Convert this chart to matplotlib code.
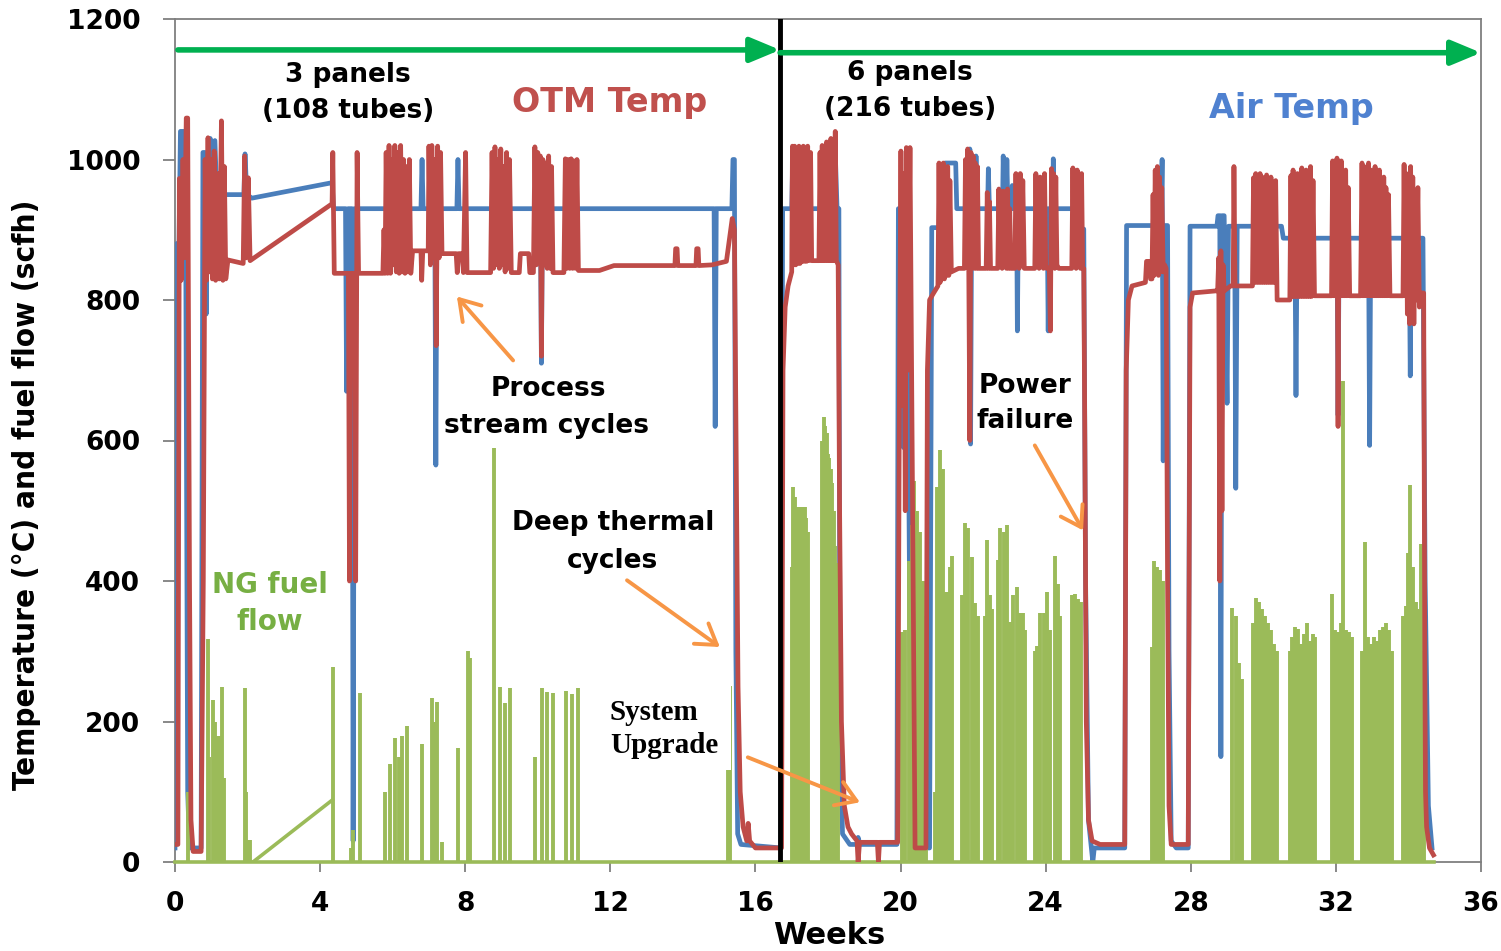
import matplotlib
matplotlib.use("Agg")
import matplotlib.pyplot as plt
from matplotlib.patches import Rectangle

# ---------------- data (weeks, value) ----------------
air_temp = [
    (0.00, 20), (0.04, 880), (0.11, 880), (0.15, 1040), (0.25, 1040), (0.29, 960), (0.35, 100), (0.40, 20), (0.72, 20),
    (0.77, 1010), (0.83, 1010), (0.86, 780), (0.90, 950), (0.97, 1030), (1.01, 950), (1.10, 1027), (1.15, 950),
    (1.90, 950), (1.93, 1008), (1.98, 950), (2.12, 945),
    (4.33, 967), (4.37, 930), (4.70, 930), (4.73, 670), (4.77, 930), (4.88, 930), (4.91, 30), (4.95, 930),
    (5.90, 930), (5.93, 1000), (5.96, 930), (6.78, 930), (6.81, 1000), (6.84, 930), (7.16, 930), (7.19, 565),
    (7.22, 930), (7.77, 930), (7.80, 1000), (7.83, 930), (10.07, 930), (10.10, 710), (10.13, 930),
    (14.86, 930), (14.89, 620), (14.92, 930),
    (15.35, 930), (15.38, 1000), (15.42, 1000), (15.46, 300), (15.51, 40), (15.60, 25), (16.70, 20),
    (16.75, 930), (17.00, 930), (17.03, 1010), (17.10, 1010), (17.13, 930), (17.30, 930), (17.33, 1010),
    (17.40, 1010), (17.43, 930), (17.95, 930), (17.98, 1010), (18.20, 1010), (18.25, 930), (18.30, 930),
    (18.33, 200), (18.40, 40), (18.60, 25), (18.80, 25), (18.83, 35), (18.88, 25), (19.90, 25),
    (19.94, 930), (20.05, 930), (20.08, 590), (20.12, 930), (20.18, 930), (20.22, 590), (20.30, 20), (20.80, 20),
    (20.86, 903), (21.20, 903), (21.23, 995), (21.52, 995), (21.55, 930), (21.88, 930), (21.91, 1015),
    (21.93, 595), (21.96, 930), (22.06, 930), (22.08, 1005), (22.11, 930), (22.40, 930), (22.42, 987),
    (22.45, 930), (22.81, 930), (22.83, 1005), (22.86, 930), (22.91, 930), (22.93, 1000), (22.96, 930),
    (23.06, 930), (23.08, 963), (23.11, 930), (23.20, 930), (23.22, 756), (23.25, 930), (24.04, 930),
    (24.07, 756), (24.10, 930), (24.19, 930), (24.21, 1001), (24.24, 930), (24.85, 930), (24.88, 901),
    (25.05, 901), (25.10, 400), (25.18, 60), (25.26, 20), (25.30, 0), (25.34, 20), (26.18, 20),
    (26.23, 906), (27.18, 906), (27.21, 1000), (27.24, 571), (27.27, 906), (27.36, 906), (27.40, 300),
    (27.46, 30), (27.60, 20), (27.93, 20),
    (27.98, 905), (28.72, 905), (28.75, 920), (28.80, 920), (28.83, 150), (28.86, 920), (28.92, 920),
    (29.00, 653), (29.04, 905), (29.21, 905), (29.24, 532), (29.28, 905), (30.50, 905), (30.55, 888),
    (30.87, 888), (30.90, 664), (30.93, 888), (32.03, 888), (32.06, 636), (32.09, 888), (32.90, 888),
    (32.93, 593), (32.96, 888), (34.02, 888), (34.05, 692), (34.08, 888), (34.40, 888), (34.46, 400),
    (34.55, 80), (34.65, 20),
]

otm_temp = [
    (0.00, 25), (0.08, 25), (0.12, 973), (0.17, 828), (0.22, 1000), (0.26, 860), (0.31, 1059), (0.35, 1059),
    (0.40, 400), (0.44, 60), (0.50, 15), (0.72, 15), (0.78, 400),
    (0.83, 1000), (0.87, 828), (0.91, 1031), (0.95, 840), (0.99, 1000), (1.03, 830), (1.08, 1012), (1.12, 828),
    (1.18, 980), (1.22, 830), (1.28, 1055), (1.32, 828), (1.36, 990), (1.40, 830), (1.46, 857),
    (1.88, 852), (1.92, 1005), (1.96, 860), (2.02, 974), (2.07, 856),
    (4.33, 937), (4.35, 1010), (4.39, 838), (4.78, 838), (4.81, 400), (4.84, 838), (4.95, 838), (4.98, 400),
    (5.02, 1010), (5.06, 838),
    (5.73, 838), (5.76, 900), (5.79, 838), (5.82, 1010), (5.86, 838), (5.90, 1020), (5.94, 838), (5.98, 1000),
    (6.02, 850), (6.06, 1020), (6.10, 840), (6.14, 1010), (6.18, 838), (6.22, 1020), (6.26, 840), (6.30, 1000),
    (6.34, 838), (6.38, 990), (6.42, 840), (6.46, 1000), (6.50, 838),
    (6.55, 870), (6.78, 870), (6.80, 828), (6.83, 870), (6.98, 870),
    (7.00, 1019), (7.04, 850), (7.08, 1020), (7.12, 860), (7.16, 1000), (7.20, 735), (7.24, 1019), (7.28, 860),
    (7.32, 1010), (7.36, 866),
    (7.75, 866), (7.78, 839), (7.82, 866), (7.92, 866), (7.95, 839), (8.01, 1010), (8.05, 839),
    (8.70, 839), (8.74, 1010), (8.78, 845), (8.82, 1018), (8.86, 850), (8.90, 1000), (8.94, 845), (8.98, 1015),
    (9.02, 850), (9.06, 990), (9.10, 840), (9.14, 1010), (9.18, 845), (9.22, 1000), (9.27, 839),
    (9.49, 839), (9.52, 866), (9.75, 866), (9.78, 839),
    (9.88, 839), (9.92, 1018), (9.96, 850), (10.00, 1010), (10.04, 860), (10.07, 1005), (10.10, 720),
    (10.14, 1000), (10.18, 850), (10.22, 995), (10.26, 845), (10.30, 1005), (10.34, 845), (10.38, 990),
    (10.42, 839),
    (10.72, 839), (10.76, 1001), (10.80, 845), (10.84, 1000), (10.88, 845), (10.92, 1001), (10.96, 845),
    (11.00, 998), (11.04, 845), (11.08, 1000), (11.12, 842),
    (11.70, 842), (12.10, 849), (13.78, 849), (13.80, 873), (13.84, 873), (13.86, 849), (14.36, 849),
    (14.38, 873), (14.42, 873), (14.44, 849), (14.80, 850), (15.20, 855), (15.36, 916), (15.42, 900),
    (15.48, 500), (15.52, 250), (15.58, 100), (15.66, 50), (15.76, 30), (15.80, 55), (15.84, 30), (16.00, 20),
    (16.72, 20),
    (16.76, 700), (16.82, 790), (16.90, 820), (17.00, 840),
    (17.02, 1019), (17.05, 850), (17.08, 1019), (17.11, 850), (17.14, 1015), (17.17, 852), (17.20, 1019),
    (17.23, 852), (17.26, 1010), (17.29, 855), (17.32, 1019), (17.35, 855), (17.38, 1015), (17.41, 855),
    (17.44, 1019), (17.47, 856), (17.52, 1010), (17.55, 856),
    (17.75, 856), (17.78, 1010), (17.81, 856), (17.84, 1020), (17.87, 856), (17.90, 1015), (17.93, 856),
    (17.96, 1025), (17.99, 856), (18.02, 1020), (18.05, 856), (18.08, 1030), (18.11, 856), (18.14, 1020),
    (18.17, 856), (18.20, 1040), (18.23, 856),
    (18.28, 850), (18.32, 500), (18.37, 200), (18.45, 80), (18.55, 50), (18.65, 40), (18.80, 30), (18.83, 0),
    (18.87, 28), (19.36, 28), (19.39, 0), (19.42, 28), (19.92, 28),
    (19.97, 700), (20.01, 1012), (20.05, 650), (20.09, 980), (20.13, 500), (20.16, 1017), (20.20, 700),
    (20.26, 1017), (20.40, 20), (20.70, 20),
    (20.74, 700), (20.80, 800), (20.90, 809),
    (21.03, 820), (21.06, 995), (21.09, 825), (21.12, 990), (21.15, 830), (21.18, 995), (21.21, 830),
    (21.24, 980), (21.27, 835), (21.30, 990), (21.33, 835), (21.36, 970), (21.40, 840),
    (21.60, 845),
    (21.76, 845), (21.79, 1000), (21.82, 850), (21.85, 1015), (21.88, 845), (21.91, 600), (21.94, 1010),
    (21.97, 850), (22.00, 1005), (22.03, 845), (22.06, 995), (22.09, 845), (22.12, 990), (22.15, 845),
    (22.36, 845), (22.39, 953), (22.42, 845), (22.45, 940), (22.48, 845),
    (22.68, 845), (22.71, 958), (22.74, 850), (22.77, 950), (22.80, 845), (22.83, 955), (22.86, 850),
    (22.89, 940), (22.92, 845), (22.95, 958), (22.98, 845), (23.01, 930), (23.04, 845),
    (23.15, 845), (23.18, 980), (23.21, 850), (23.24, 975), (23.27, 845), (23.30, 980), (23.33, 850),
    (23.37, 970), (23.41, 845),
    (23.60, 845),
    (23.70, 845), (23.73, 980), (23.76, 850), (23.79, 960), (23.82, 845), (23.85, 975), (23.88, 850),
    (23.91, 965), (23.94, 845), (23.97, 980), (24.00, 850), (24.03, 845),
    (24.10, 845), (24.13, 756), (24.16, 987), (24.19, 850), (24.22, 980), (24.25, 845), (24.28, 975),
    (24.31, 850), (24.36, 845),
    (24.55, 845),
    (24.72, 845), (24.75, 988), (24.78, 850), (24.81, 970), (24.84, 845), (24.87, 985), (24.90, 850),
    (24.93, 975), (24.96, 845), (24.99, 980), (25.02, 845),
    (25.05, 845), (25.08, 600), (25.12, 200), (25.18, 60), (25.28, 30), (25.50, 25), (26.18, 25),
    (26.22, 700), (26.28, 800), (26.38, 820), (26.75, 825), (26.78, 855), (26.86, 855), (26.89, 830),
    (26.93, 830), (26.96, 950), (26.99, 835), (27.02, 985), (27.05, 840), (27.08, 990), (27.11, 835),
    (27.14, 975), (27.17, 840), (27.20, 960), (27.24, 840), (27.28, 850), (27.32, 845), (27.36, 400),
    (27.40, 80), (27.46, 25), (27.93, 25),
    (27.98, 790), (28.05, 810), (28.70, 813),
    (28.74, 813), (28.77, 860), (28.80, 400), (28.83, 870), (28.86, 500), (28.89, 850), (28.92, 813),
    (29.10, 820), (29.17, 820), (29.19, 990), (29.22, 820), (29.60, 820),
    (29.70, 820), (29.73, 974), (29.76, 825), (29.79, 980), (29.82, 825), (29.85, 970), (29.88, 825),
    (29.91, 980), (29.94, 825), (29.97, 975), (30.00, 825), (30.03, 965), (30.06, 825), (30.09, 978),
    (30.12, 825), (30.15, 960), (30.18, 825), (30.21, 975), (30.24, 825), (30.27, 960), (30.30, 825),
    (30.34, 970), (30.38, 800),
    (30.70, 800),
    (30.73, 800), (30.76, 977), (30.79, 805), (30.82, 985), (30.85, 805), (30.88, 975), (30.91, 805),
    (30.94, 980), (30.97, 805), (31.00, 975), (31.03, 805), (31.06, 988), (31.09, 805), (31.12, 975),
    (31.15, 805), (31.18, 985), (31.21, 805), (31.24, 978), (31.27, 805), (31.30, 990), (31.33, 805),
    (31.37, 970), (31.41, 806),
    (31.88, 806),
    (31.91, 998), (31.94, 806), (31.97, 980), (32.00, 806), (32.03, 1002), (32.06, 620), (32.09, 990),
    (32.12, 806), (32.15, 998), (32.18, 806), (32.21, 970), (32.24, 806), (32.27, 985), (32.30, 806),
    (32.34, 960), (32.38, 806),
    (32.68, 806),
    (32.72, 995), (32.75, 806), (32.78, 990), (32.81, 806), (32.84, 980), (32.87, 806), (32.90, 995),
    (32.93, 806), (32.96, 985), (32.99, 806), (33.02, 955), (33.05, 806), (33.08, 990), (33.11, 806),
    (33.14, 970), (33.17, 806), (33.20, 985), (33.23, 806), (33.26, 955), (33.29, 806), (33.32, 975),
    (33.35, 806), (33.38, 960), (33.41, 806), (33.45, 950), (33.49, 806),
    (33.85, 806),
    (33.88, 993), (33.91, 806), (33.94, 980), (33.97, 780), (34.00, 958), (34.03, 766), (34.06, 990),
    (34.09, 800), (34.12, 975), (34.15, 766), (34.18, 950), (34.21, 800), (34.26, 960), (34.30, 790),
    (34.36, 810), (34.42, 810), (34.45, 300), (34.47, 100), (34.50, 50), (34.58, 20), (34.69, 10),
]

ng_fuel_flow = [
    (0.36, 100), (0.91, 317), (0.95, 150), (1.05, 230), (1.10, 200), (1.15, 180), (1.23, 180), (1.30, 249),
    (1.35, 120), (1.93, 247), (1.97, 100), (2.02, 31), (2.08, 31), (4.35, 278), (4.85, 20), (4.92, 45),
    (5.10, 240), (5.79, 100), (5.93, 140), (6.06, 176), (6.17, 150), (6.26, 180), (6.39, 193), (6.81, 168),
    (7.08, 233), (7.17, 200), (7.22, 228), (7.36, 28), (7.80, 162), (8.08, 301), (8.13, 290), (8.79, 590),
    (8.96, 249), (9.10, 226), (9.23, 248), (9.92, 150), (10.12, 248), (10.25, 242), (10.42, 240),
    (10.78, 244), (10.94, 239), (11.11, 247), (15.25, 250), (15.29, 250),
    (17.00, 420), (17.04, 534), (17.08, 520), (17.12, 505), (17.16, 505), (17.20, 480), (17.24, 505),
    (17.28, 495), (17.32, 505), (17.36, 505), (17.40, 490), (17.44, 470),
    (17.84, 600), (17.88, 633), (17.92, 620), (17.96, 610), (18.00, 581), (18.04, 575), (18.08, 560),
    (18.12, 540), (18.16, 500), (18.20, 450), (18.24, 425), (18.28, 300),
    (20.04, 327), (20.12, 330), (20.23, 429), (20.31, 480), (20.37, 543), (20.45, 500), (20.53, 470),
    (20.62, 400), (20.70, 350),
    (20.95, 100), (21.00, 534), (21.08, 586), (21.16, 560), (21.22, 384), (21.30, 384), (21.37, 420),
    (21.42, 436),
    (21.69, 380), (21.77, 482), (21.85, 475), (21.96, 434), (22.05, 368), (22.13, 350),
    (22.33, 350), (22.38, 458), (22.46, 380), (22.52, 360),
    (22.68, 430), (22.74, 475), (22.85, 470), (22.93, 480), (23.02, 341), (23.10, 380), (23.21, 391),
    (23.29, 354), (23.37, 354), (23.43, 330),
    (23.70, 300), (23.76, 308), (23.84, 354), (23.95, 354), (24.03, 384), (24.12, 330), (24.25, 436),
    (24.34, 396), (24.39, 350),
    (24.72, 380), (24.81, 381), (24.89, 375), (24.97, 370),
    (26.93, 306), (26.99, 429), (27.07, 420), (27.15, 415), (27.23, 400),
    (29.13, 361), (29.24, 350), (29.33, 283), (29.41, 260),
    (29.71, 340), (29.79, 376), (29.88, 370), (29.96, 360), (30.04, 350), (30.12, 340), (30.21, 330),
    (30.29, 311), (30.37, 300),
    (30.73, 300), (30.79, 320), (30.87, 335), (30.95, 331), (31.04, 310), (31.12, 325), (31.21, 340),
    (31.29, 315), (31.37, 325), (31.42, 320),
    (31.89, 382), (31.97, 330), (32.06, 327), (32.14, 340), (32.20, 685), (32.28, 330), (32.36, 327),
    (32.44, 320),
    (32.72, 300), (32.80, 455), (32.88, 320), (32.97, 310), (33.05, 320), (33.13, 315), (33.22, 330),
    (33.30, 335), (33.38, 340), (33.46, 330), (33.54, 300),
    (33.85, 350), (33.93, 365), (33.99, 440), (34.04, 536), (34.12, 420), (34.20, 370), (34.29, 360),
    (34.34, 453), (34.42, 300),
]
ng_gap_line = [(2.15, 0), (4.33, 88)]
ng_span = [0.0, 34.7]

upgrade_week = 16.68
phase_arrows = [(0.08, 16.68, 1156), (16.68, 36.0, 1152)]

x_ticks = list(range(0, 37, 4))
y_ticks = list(range(0, 1201, 200))

BLUE = "#4A7EBB"
RED = "#BE4B48"
GREEN = "#9BBB59"
ORANGE = "#F79646"

# ---------------- figure ----------------
W, H = 1501, 951
fig = plt.figure(figsize=(W / 100, H / 100), dpi=100)
ax = fig.add_axes([175 / W, 1 - 862 / H, (1481 - 175) / W, (862 - 19) / H])
ax.set_xlim(0, 36)
ax.set_ylim(0, 1200)

aw, av = zip(*air_temp)
ow, ov = zip(*otm_temp)
gw, gv = zip(*ng_fuel_flow)

ax.plot(aw, av, color=BLUE, lw=3.4, zorder=3, solid_joinstyle="round")
ax.vlines(gw, 0, gv, color=GREEN, lw=2.8, zorder=4)
ax.plot(*zip(*ng_gap_line), color=GREEN, lw=2.6, zorder=4)
ax.plot(ng_span, [0, 0], color=GREEN, lw=2.6, zorder=4, clip_on=False)
ax.plot(ow, ov, color=RED, lw=3.4, zorder=5, solid_joinstyle="round")

# white label box for "System Upgrade"
ax.add_patch(Rectangle((11.66, 131), 15.32 - 11.66, 252 - 131, facecolor="white",
                       edgecolor="none", zorder=6))

# divider line
ax.plot([upgrade_week, upgrade_week], [0, 1200], color="black", lw=3.5, zorder=7)

# phase arrows
for x0, x1, yv in phase_arrows:
    ax.annotate("", xy=(x1, yv), xytext=(x0, yv),
                arrowprops=dict(arrowstyle="-|>,head_length=1.2,head_width=0.5", lw=4,
                                color="#00B050", mutation_scale=15, shrinkA=0, shrinkB=0),
                zorder=8, annotation_clip=False)

# orange annotation arrows
orange_arrows = [((9.32, 714), (7.77, 805)), ((12.46, 401), (15.02, 306)),
                 ((15.79, 149), (18.88, 85)), ((23.70, 593), (25.03, 472))]
for (tx, ty), (hx, hy) in orange_arrows:
    ax.annotate("", xy=(hx, hy), xytext=(tx, ty),
                arrowprops=dict(arrowstyle="->,head_length=0.7,head_width=0.45", lw=2.8,
                                color=ORANGE, mutation_scale=20, shrinkA=0, shrinkB=0),
                zorder=8)

bold = dict(fontweight="bold", ha="center", va="center", zorder=9)
ax.text(4.77, 1120, "3 panels", fontsize=19, color="black", **bold)
ax.text(4.77, 1069, "(108 tubes)", fontsize=19, color="black", **bold)
ax.text(20.26, 1123, "6 panels", fontsize=19, color="black", **bold)
ax.text(20.26, 1072, "(216 tubes)", fontsize=19, color="black", **bold)
ax.text(11.99, 1081, "OTM Temp", fontsize=24, color="#C0504D", **bold)
ax.text(30.76, 1072, "Air Temp", fontsize=24, color="#4F81D0", **bold)
ax.text(10.28, 674, "Process", fontsize=19, color="black", **bold)
ax.text(10.25, 621, "stream cycles", fontsize=19, color="black", **bold)
ax.text(12.07, 483, "Deep thermal", fontsize=19, color="black", **bold)
ax.text(12.07, 429, "cycles", fontsize=19, color="black", **bold)
ax.text(2.62, 395, "NG fuel", fontsize=20, color="#77AF43", **bold)
ax.text(2.62, 341, "flow", fontsize=20, color="#77AF43", **bold)
ax.text(23.43, 678, "Power", fontsize=19, color="black", **bold)
ax.text(23.43, 628, "failure", fontsize=19, color="black", **bold)
ax.text(11.99, 213, "System", fontsize=21, color="black", fontweight="bold",
        family="Liberation Serif", ha="left", va="center", zorder=9)
ax.text(11.99, 166, "Upgrade", fontsize=21, color="black", fontweight="bold",
        family="Liberation Serif", ha="left", va="center", zorder=9)

# axes styling
for s in ax.spines.values():
    s.set_color("#7F7F7F")
    s.set_linewidth(1.3)
ax.set_xticks(x_ticks)
ax.set_yticks(y_ticks)
ax.tick_params(axis="y", length=9, width=1.3, color="#7F7F7F", pad=16, labelsize=19)
ax.tick_params(axis="x", length=7, width=1.3, color="#7F7F7F", pad=14, labelsize=19)
for lab in ax.get_xticklabels() + ax.get_yticklabels():
    lab.set_fontweight("bold")

fig.text(829 / W, 1 - 935 / H, "Weeks", fontsize=22, fontweight="bold", ha="center", va="center")
fig.text(27 / W, 1 - 495 / H, "Temperature (°C) and fuel flow (scfh)", fontsize=22.5,
         fontweight="bold", fontstretch="condensed", rotation=90, ha="center", va="center",
         family="DejaVu Sans")

fig.savefig("out.png", dpi=100)
